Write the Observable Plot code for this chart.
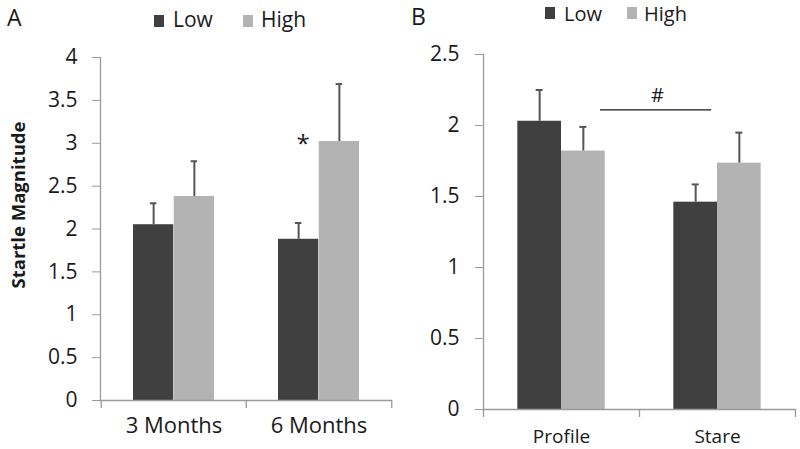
<!DOCTYPE html>
<html>
<head>
<meta charset="utf-8">
<script src="https://cdn.jsdelivr.net/npm/d3@7"></script>
<script src="https://cdn.jsdelivr.net/npm/@observablehq/plot@0.6"></script>
<style>
  html, body { margin: 0; padding: 0; background: #fff; }
  #wrap { position: relative; width: 800px; height: 449px; overflow: hidden; font-family: 'Open Sans', sans-serif; color: #1a1a1a; }
  .abs { position: absolute; white-space: nowrap; line-height: 1; }
  .sw { position: absolute; width: 10px; height: 12px; }
  .panel { position: absolute; top: 0; }
</style>
</head>
<body>
<div id="wrap"></div>
<script>
// ---------- data ----------
const groups = ["Low", "High"];
const groupColors = ["#404040", "#b3b3b3"];

const catsA = ["3 Months", "6 Months"];
const lowA = [2.05, 1.88];
const highA = [2.38, 3.02];
const lowErrA = [0.25, 0.19];
const highErrA = [0.41, 0.67];
const ticksA = [0, 0.5, 1, 1.5, 2, 2.5, 3, 3.5, 4];
const yLabelA = "Startle Magnitude";
const starA = [{cat: "6 Months", y: 2.985, text: "*"}];

const catsB = ["Profile", "Stare"];
const lowB = [2.03, 1.46];
const highB = [1.82, 1.735];
const lowErrB = [0.22, 0.125];
const highErrB = [0.17, 0.215];
const ticksB = [0, 0.5, 1, 1.5, 2, 2.5];
const hashB = [{x1: "Profile", x2: "Stare", y: 2.11}];
const hashTextB = [{cat: "Stare", y: 2.21, text: "#"}];

// ---------- helpers ----------
function rowsOf(cats, low, high, lowErr, highErr) {
  return cats.flatMap((c, i) => [
    {cat: c, group: "Low", value: low[i], err: lowErr[i]},
    {cat: c, group: "High", value: high[i], err: highErr[i]}
  ]);
}

const axisGray = "#9a9a9a";
const errColor = "#555555";

function panel(cfg) {
  const {cats, rows, yDomain, yTicks, width, height, mL, mR, mT, mB, tickPad, xPad, extra} = cfg;
  const bw = (width - mL - mR) / cats.length;
  const frameH = height - mT - mB;
  const g = 0.22, b = 0.28;
  const inset = grp => grp === "Low"
    ? {insetLeft: g * bw, insetRight: (1 - g - b) * bw}
    : {insetLeft: (g + b) * bw, insetRight: (1 - g - 2 * b) * bw};
  const off = grp => (grp === "Low" ? -1 : 1) * (0.5 - g - b / 2) * bw;
  const marks = [];
  groups.forEach((grp, gi) => {
    const data = rows.filter(r => r.group === grp);
    marks.push(Plot.barY(data, {x: "cat", y: "value", fill: groupColors[gi], ...inset(grp)}));
  });
  groups.forEach((grp) => {
    const data = rows.filter(r => r.group === grp);
    marks.push(Plot.ruleX(data, {x: "cat", y1: "value", y2: d => d.value + d.err, dx: off(grp), stroke: errColor, strokeWidth: 2}));
    marks.push(Plot.tickY(data, {x: "cat", y: d => d.value + d.err, dx: off(grp), insetLeft: bw / 2 - 3.5, insetRight: bw / 2 - 3.5, stroke: errColor, strokeWidth: 2}));
  });
  // axis lines
  marks.push(Plot.frame({anchor: "left", stroke: axisGray, strokeWidth: 1.3}));
  marks.push(Plot.frame({anchor: "bottom", stroke: axisGray, strokeWidth: 1.3}));
  // category boundary tick marks
  marks.push(Plot.ruleX(cats, {x: d => d, dx: -bw / 2, insetTop: frameH, insetBottom: -8, stroke: axisGray, strokeWidth: 1.3}));
  marks.push(Plot.ruleX(cats.slice(-1), {x: d => d, dx: bw / 2, insetTop: frameH, insetBottom: -8, stroke: axisGray, strokeWidth: 1.3}));
  marks.push(Plot.axisY({ticks: yTicks, tickSize: 8, tickPadding: tickPad, tickFormat: d => String(d), stroke: axisGray, fill: "#1a1a1a", fontSize: cfg.yFont, label: null}));
  marks.push(Plot.axisX({tickSize: 0, tickPadding: xPad, fontSize: cfg.xFont, fill: "#1a1a1a", label: null}));
  marks.push(...extra(bw));
  return Plot.plot({
    width, height,
    marginLeft: mL, marginRight: mR, marginTop: mT, marginBottom: mB,
    style: {fontFamily: "'Open Sans', sans-serif", background: "#fff", overflow: "visible"},
    x: {type: "band", domain: cats, padding: 0, axis: null},
    y: {domain: yDomain, axis: null},
    marks
  });
}

const wrap = document.getElementById("wrap");

const svgA = panel({
  cats: catsA, rows: rowsOf(catsA, lowA, highA, lowErrA, highErrA),
  yDomain: [0, 4], yTicks: ticksA,
  width: 400, height: 449, mL: 100, mR: 9, mT: 57, mB: 49, tickPad: 15, xPad: 17, xFont: 22, yFont: 21,
  extra: bw => [Plot.text(starA, {x: "cat", y: "y", text: "text", dx: -0.11 * bw, fontSize: 24, fill: "#1a1a1a"})]
});
const svgB = panel({
  cats: catsB, rows: rowsOf(catsB, lowB, highB, lowErrB, highErrB),
  yDomain: [0, 2.5], yTicks: ticksB,
  width: 400, height: 449, mL: 83, mR: 5, mT: 54, mB: 40, tickPad: 16, xPad: 20, xFont: 19, yFont: 21,
  extra: bw => [
    Plot.ruleY(hashB, {x1: "x1", x2: "x2", y: "y", insetLeft: 0.75 * bw, insetRight: 0.538 * bw, stroke: "#1a1a1a", strokeWidth: 1.3}),
    Plot.text(hashTextB, {x: "cat", y: "y", text: "text", dx: -0.385 * bw, fontSize: 20, fill: "#1a1a1a"})
  ]
});

const pA = document.createElement("div"); pA.className = "panel"; pA.style.left = "0px"; pA.appendChild(svgA); wrap.appendChild(pA);
const pB = document.createElement("div"); pB.className = "panel"; pB.style.left = "400px"; pB.appendChild(svgB); wrap.appendChild(pB);

// ---------- HTML text: letters, legends, y label ----------
function textAt(str, left, baseline, size, weight) {
  const d = document.createElement("div");
  d.className = "abs";
  d.textContent = str;
  d.style.fontSize = size + "px";
  d.style.left = left + "px";
  d.style.top = (baseline - 0.888 * size) + "px";
  if (weight) d.style.fontWeight = weight;
  wrap.appendChild(d);
  return d;
}
function swatch(left, top, color) {
  const s = document.createElement("div");
  s.className = "sw"; s.style.left = left + "px"; s.style.top = top + "px"; s.style.background = color;
  wrap.appendChild(s);
}
textAt("A", 7, 26, 23);
textAt("B", 411, 25, 23);
// legend A
swatch(154, 15, groupColors[0]); textAt(groups[0], 173, 28, 21);
swatch(243, 15, groupColors[1]); textAt(groups[1], 261, 28, 21);
// legend B
swatch(545, 7, groupColors[0]); textAt(groups[0], 564, 21.5, 20);
swatch(627, 7, groupColors[1]); textAt(groups[1], 644, 21.5, 20);
// y label
const yl = document.createElement("div");
yl.className = "abs";
yl.textContent = yLabelA;
yl.style.fontSize = "18.5px";
yl.style.fontWeight = "700";
yl.style.left = "18px";
yl.style.top = "205px";
yl.style.transform = "translate(-50%, -50%) rotate(-90deg)";
wrap.appendChild(yl);
</script>
</body>
</html>
